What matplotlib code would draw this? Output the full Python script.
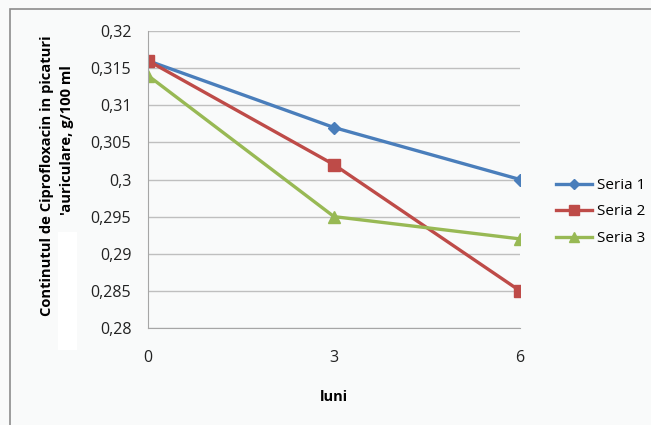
import matplotlib.pyplot as plt
from matplotlib.patches import Rectangle

luni = [0, 3, 6]
seria_1 = [0.316, 0.307, 0.300]
seria_2 = [0.316, 0.302, 0.285]
seria_3 = [0.314, 0.295, 0.292]
y_ticks = [0.28, 0.285, 0.29, 0.295, 0.30, 0.305, 0.31, 0.315, 0.32]
y_labels = ['0,28', '0,285', '0,29', '0,295', '0,3', '0,305', '0,31', '0,315', '0,32']

plt.rcParams['font.family'] = ['Open Sans', 'DejaVu Sans']

W, H = 651, 425
fig = plt.figure(figsize=(W / 100, H / 100), dpi=100, facecolor='#f9fafa')

# chart frame (top and left edges visible)
fig.patches.append(Rectangle((10 / W, -0.1), 1.2, 1 - 9 / H + 0.1, transform=fig.transFigure,
                             fill=False, edgecolor='#8c8c8c', linewidth=1.2))

ax = fig.add_axes([148 / W, 1 - 328 / H, (520 - 148) / W, (328 - 31) / H])
ax.set_facecolor('#f9fafa')

ax.plot(luni, seria_1, color='#4a7ebb', lw=2.4, marker='D', ms=6.5, label='Seria 1')
ax.plot(luni, seria_2, color='#be4b48', lw=2.4, marker='s', ms=8.5, label='Seria 2')
ax.plot(luni, seria_3, color='#98b954', lw=2.4, marker='^', ms=9, label='Seria 3')

ax.set_xlim(0, 6)
ax.set_ylim(0.28, 0.32)
ax.set_xticks(luni)
ax.set_xticklabels([str(v) for v in luni])
ax.set_yticks(y_ticks)
ax.set_yticklabels(y_labels)
ax.grid(axis='y', color='#bfbfbf', lw=1)
ax.set_axisbelow(True)
for s in ['top', 'right']:
    ax.spines[s].set_visible(False)
for s in ['left', 'bottom']:
    ax.spines[s].set_color('#a6a6a6')
ax.tick_params(length=0, labelsize=11.5, colors='#222222')
ax.tick_params(axis='y', pad=12)
ax.tick_params(axis='x', pad=16)
for lab in ax.get_xticklabels() + ax.get_yticklabels():
    lab.set_clip_on(False)

fig.text(334 / W, 1 - 397 / H, 'luni', ha='center', va='center', fontsize=10.5, fontweight='bold')

fig.text(47 / W, 1 - 176 / H, 'Continutul de Ciprofloxacin in picaturi', rotation=90,
         ha='center', va='center', fontsize=10.6, fontweight='bold')
fig.text(67 / W, 1 - 65 / H, "'auriculare, g/100 ml", rotation=90,
         ha='center', va='top', fontsize=10.6, fontweight='bold')
# white box that hides part of the axis title
fig.patches.append(Rectangle((58 / W, 1 - 350 / H), 19 / W, 118 / H, transform=fig.transFigure,
                             facecolor='white', edgecolor='none', zorder=5))

ax.legend(loc='center left', bbox_to_anchor=(542 / W, 1 - 212 / H), bbox_transform=fig.transFigure,
          frameon=False, fontsize=11, handlelength=2.4, labelspacing=0.75, handletextpad=0.3,
          markerscale=0.8)

fig.savefig('out.png', dpi=100, facecolor=fig.get_facecolor())
